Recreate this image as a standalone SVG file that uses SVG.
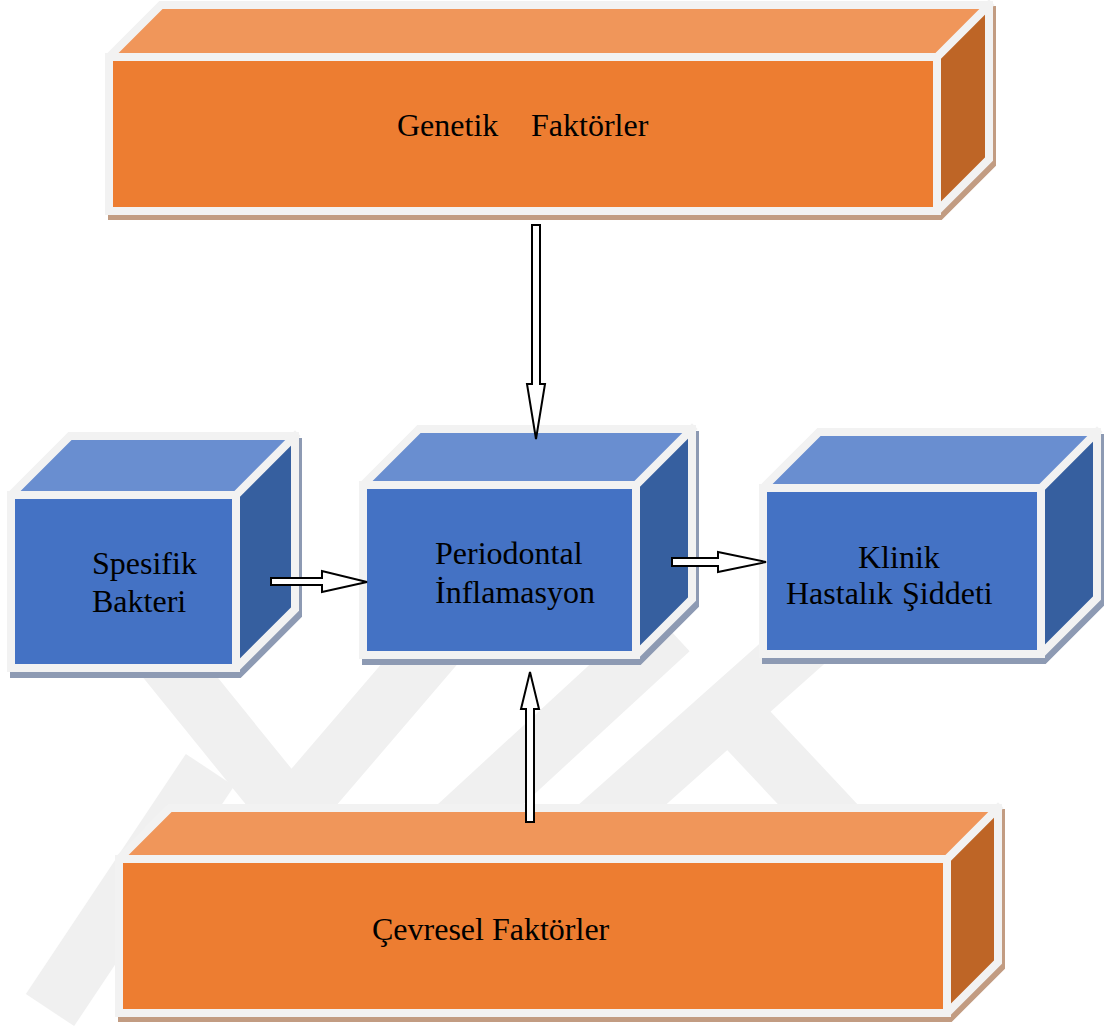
<svg xmlns="http://www.w3.org/2000/svg" width="1108" height="1028" viewBox="0 0 1108 1028">
  <defs>
    <style>
      .wm { fill: none; stroke: #f0f0f0; stroke-width: 58; stroke-linecap: butt; }
      .rim { fill: none; stroke: #f2f2f2; stroke-width: 8; stroke-linejoin: miter; stroke-linecap: square; }
      .sh-o { fill: #c29c82; stroke: #c29c82; stroke-width: 8; stroke-linejoin: miter; }
      .sh-b { fill: #8d9ab3; stroke: #8d9ab3; stroke-width: 8; stroke-linejoin: miter; }
      .o-front { fill: #ed7d31; }
      .o-top { fill: #f0965a; }
      .o-side { fill: #be6526; }
      .b-front { fill: #4472c4; }
      .b-top { fill: #698ed0; }
      .b-side { fill: #365f9f; }
      .lbl { font-family: "Liberation Serif", "Times New Roman", serif; font-size: 32px; fill: #000000; }
      .arrow { fill: #ffffff; stroke: #000000; stroke-width: 2; stroke-linejoin: miter; }
    </style>
  </defs>

  <rect width="1108" height="1028" fill="#ffffff"/>

  <!-- faint background emblem -->
  <g id="watermark">
    <line class="wm" x1="150" y1="640" x2="320" y2="850"/>
    <line class="wm" x1="440" y1="640" x2="260" y2="850"/>
    <line class="wm" x1="670" y1="630" x2="420" y2="860"/>
    <line class="wm" x1="830" y1="620" x2="560" y2="860"/>
    <line class="wm" x1="720" y1="700" x2="870" y2="860"/>
    <line class="wm" x1="210" y1="770" x2="50" y2="1010"/>
  </g>

  <!-- Genetik Faktörler -->
  <g id="genetik">
    <polygon class="sh-o" transform="translate(3,5)" points="109,57 161,5 989,5 989,159 937,211 109,211"/>
    <rect class="o-front" x="109" y="57" width="828" height="154"/>
    <polygon class="o-top" points="109,57 161,5 989,5 937,57"/>
    <polygon class="o-side" points="937,57 989,5 989,159 937,211"/>
    <polygon class="rim" points="109,57 161,5 989,5 989,159 937,211 109,211"/>
    <path class="rim" d="M109,57 H937 V211 M937,57 L989,5"/>
    <text class="lbl" y="136"><tspan x="397">Genetik</tspan><tspan x="531">Faktörler</tspan></text>
  </g>

  <!-- Spesifik Bakteri -->
  <g id="bakteri">
    <polygon class="sh-b" transform="translate(3,6)" points="11,495 70,436 295,436 295,609 236,668 11,668"/>
    <rect class="b-front" x="11" y="495" width="225" height="173"/>
    <polygon class="b-top" points="11,495 70,436 295,436 236,495"/>
    <polygon class="b-side" points="236,495 295,436 295,609 236,668"/>
    <polygon class="rim" points="11,495 70,436 295,436 295,609 236,668 11,668"/>
    <path class="rim" d="M11,495 H236 V668 M236,495 L295,436"/>
    <text class="lbl"><tspan x="92" y="574">Spesifik</tspan><tspan x="92" y="612">Bakteri</tspan></text>
  </g>

  <!-- Periodontal İnflamasyon -->
  <g id="inflamasyon">
    <polygon class="sh-b" transform="translate(3,6)" points="363,485 419,429 692,429 692,599 636,655 363,655"/>
    <rect class="b-front" x="363" y="485" width="273" height="170"/>
    <polygon class="b-top" points="363,485 419,429 692,429 636,485"/>
    <polygon class="b-side" points="636,485 692,429 692,599 636,655"/>
    <polygon class="rim" points="363,485 419,429 692,429 692,599 636,655 363,655"/>
    <path class="rim" d="M363,485 H636 V655 M636,485 L692,429"/>
    <text class="lbl"><tspan x="435" y="564">Periodontal</tspan><tspan x="435" y="603">İnflamasyon</tspan></text>
  </g>

  <!-- Klinik Hastalık Şiddeti -->
  <g id="siddet">
    <polygon class="sh-b" transform="translate(3,6)" points="763,488 819,432 1097,432 1097,598 1041,654 763,654"/>
    <rect class="b-front" x="763" y="488" width="278" height="166"/>
    <polygon class="b-top" points="763,488 819,432 1097,432 1041,488"/>
    <polygon class="b-side" points="1041,488 1097,432 1097,598 1041,654"/>
    <polygon class="rim" points="763,488 819,432 1097,432 1097,598 1041,654 763,654"/>
    <path class="rim" d="M763,488 H1041 V654 M1041,488 L1097,432"/>
    <text class="lbl"><tspan x="858" y="568">Klinik</tspan><tspan x="786" y="604">Hastalık</tspan><tspan x="902" y="604">Şiddeti</tspan></text>
  </g>

  <!-- Çevresel Faktörler -->
  <g id="cevresel">
    <polygon class="sh-o" transform="translate(3,5)" points="119,859 170,808 998,808 998,962 947,1013 119,1013"/>
    <rect class="o-front" x="119" y="859" width="828" height="154"/>
    <polygon class="o-top" points="119,859 170,808 998,808 947,859"/>
    <polygon class="o-side" points="947,859 998,808 998,962 947,1013"/>
    <polygon class="rim" points="119,859 170,808 998,808 998,962 947,1013 119,1013"/>
    <path class="rim" d="M119,859 H947 V1013 M947,859 L998,808"/>
    <text class="lbl" x="372" y="940">Çevresel Faktörler</text>
  </g>

  <!-- block arrows -->
  <g id="connectors">
    <polygon class="arrow" points="532,225 540,225 540,384 545,384 536,439 527,384 532,384"/>
    <polygon class="arrow" points="526,822 534,822 534,709 539,709 530,672 521,709 526,709"/>
    <polygon class="arrow" points="271,578 322,578 322,571 367,582 322,592 322,585 271,585"/>
    <polygon class="arrow" points="672,558 718,558 718,552 766,562 718,572 718,566 672,566"/>
  </g>
</svg>
